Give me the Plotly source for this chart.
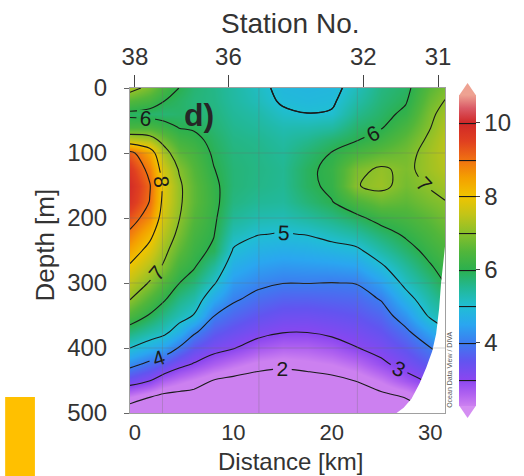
import numpy as np
import plotly.graph_objects as go

# ---------------- data ----------------
distance_km = [-0.5, 1.5, 3, 4.5, 6, 8, 10, 12.5, 15, 17.5, 20, 22.5, 25, 27.5, 30, 31.5]
depth_m = [0, 20, 40, 60, 80, 100, 125, 150, 175, 200, 225, 250, 275, 300,
           325, 350, 375, 400, 425, 450, 475, 500]

# one vertical profile (values at depth_m) per distance
profiles = [
    [7.25, 6.5, 5.87, 6.35, 7.5, 9.2, 9.65, 9.9, 9.75, 9.3, 8.87, 8.4, 7.9, 7.45, 7.02, 6.4, 5.7, 5.0, 4.2, 3.3, 2.3, 1.6],
    [6.8, 6.3, 5.8, 6.38, 7.3, 8.4, 8.8, 9.05, 8.98, 8.7, 8.2, 7.76, 7.35, 6.95, 6.45, 5.95, 5.36, 4.67, 3.83, 3.02, 2.02, 1.6],
    [6.35, 6.0, 5.75, 6.2, 6.75, 7.25, 7.6, 7.8, 7.75, 7.6, 7.4, 7.15, 6.9, 6.47, 6.05, 5.6, 5.15, 4.43, 3.54, 2.62, 1.85, 1.6],
    [5.99, 5.85, 5.8, 5.97, 6.3, 6.6, 6.95, 7.1, 7.1, 7.02, 6.85, 6.6, 6.3, 6.01, 5.62, 5.25, 4.72, 3.95, 3.18, 2.41, 1.8, 1.6],
    [5.75, 5.7, 5.75, 5.93, 6.15, 6.35, 6.5, 6.6, 6.6, 6.5, 6.35, 6.2, 6.05, 5.72, 5.35, 4.97, 4.1, 3.51, 2.95, 2.23, 1.8, 1.6],
    [5.6, 5.62, 5.68, 5.75, 5.85, 5.93, 6.02, 6.12, 6.15, 6.1, 6.03, 5.9, 5.45, 5.07, 4.57, 4.02, 3.61, 3.2, 2.66, 1.98, 1.7, 1.55],
    [5.4, 5.42, 5.48, 5.55, 5.62, 5.68, 5.72, 5.72, 5.65, 5.5, 5.25, 4.95, 4.66, 4.37, 4.08, 3.74, 3.4, 3.03, 2.44, 1.85, 1.6, 1.5],
    [5.15, 5.22, 5.35, 5.45, 5.55, 5.6, 5.62, 5.6, 5.5, 5.3, 5.02, 4.72, 4.42, 4.13, 3.82, 3.5, 3.17, 2.74, 2.2, 1.75, 1.55, 1.45],
    [4.86, 4.93, 5.1, 5.28, 5.4, 5.48, 5.53, 5.52, 5.45, 5.25, 4.97, 4.64, 4.32, 4.01, 3.68, 3.35, 3.03, 2.58, 2.12, 1.7, 1.5, 1.45],
    [4.82, 4.88, 5.01, 5.3, 5.55, 5.75, 5.88, 5.87, 5.72, 5.42, 5.02, 4.68, 4.35, 4.01, 3.67, 3.34, 3.02, 2.6, 2.2, 1.75, 1.55, 1.45],
    [4.85, 4.92, 5.05, 5.4, 5.78, 6.02, 6.15, 6.12, 5.98, 5.62, 5.2, 4.77, 4.38, 3.99, 3.71, 3.41, 3.12, 2.74, 2.3, 1.85, 1.6, 1.5],
    [5.2, 5.35, 5.55, 5.78, 5.97, 6.35, 6.85, 6.97, 6.4, 5.87, 5.4, 4.88, 4.45, 4.02, 3.75, 3.5, 3.24, 2.98, 2.5, 2.02, 1.7, 1.55],
    [5.65, 5.72, 5.82, 5.95, 6.25, 6.6, 7.08, 7.15, 6.7, 6.2, 5.76, 5.35, 4.9, 4.45, 4.03, 3.73, 3.47, 3.2, 2.87, 2.32, 1.85, 1.6],
    [5.85, 5.95, 6.12, 6.38, 6.62, 6.8, 6.88, 6.8, 6.6, 6.35, 6.08, 5.78, 5.45, 5.15, 4.76, 4.3, 3.88, 3.55, 3.22, 2.74, 2.03, 1.7],
    [6.55, 6.72, 6.88, 6.98, 7.12, 7.22, 7.2, 7.05, 6.85, 6.6, 6.4, 6.18, 5.95, 5.66, 5.38, 5.1, 4.5, 3.98, 3.6, 3.1, 2.5, 1.98],
    [6.85, 7.02, 7.2, 7.32, 7.42, 7.45, 7.38, 7.2, 6.98, 6.8, 6.6, 6.4, 6.2, 6.02, 5.7, 5.35, 4.9, 4.3, 3.8, 3.3, 2.7, 2.2],
]

# sea floor (no-data area, bottom right)
bottom_km = [31.6, 31.3, 31.1, 30.9, 30.6, 30.2, 29.6, 28.9, 28.1, 27.3, 26.4, 31.6]
bottom_depth = [230, 270, 300, 340, 378, 405, 430, 455, 478, 492, 502, 502]

station_no = ["38", "36", "32", "31"]
station_km = [0, 9.5, 23.2, 30.8]

dist_ticks = [0, 10, 20, 30]
depth_ticks = [0, 100, 200, 300, 400, 500]
cbar_ticks = [4, 6, 8, 10]
grid_km = [2.8, 12.6, 22.6]

contour_levels = dict(start=2, end=10, size=1)
surface_rows = 5          # upper 80 m, where the closed 5-loop sits
surface_level = 5
zmin, zmax = 2.28, 10.76

color_values = [2.28, 2.6, 3.0, 3.5, 4.0, 4.5, 5.0, 5.5, 6.0, 6.5, 7.0, 7.5,
                8.0, 8.5, 9.0, 9.5, 10.0, 10.4, 10.76]
color_hex = ["#cc80f0", "#b062f0", "#8a46f0", "#6254f0", "#3c7cf0", "#2aa6f0",
             "#20bed4", "#22b896", "#2cb04e", "#52b63a", "#8ac02a", "#c2c418",
             "#f0c400", "#f4a000", "#f07012", "#e04020", "#d02828", "#da5a66",
             "#eea292"]

# ---------------- figure ----------------
z = np.array(profiles).T  # rows = depth, cols = distance
colorscale = [[(v - zmin) / (zmax - zmin), c] for v, c in zip(color_values, color_hex)]

FONT = "Liberation Sans, Arial, sans-serif"
TXT = "#333333"
LINE = "#1a1a1a"

L, R, T, B = 130, 458, 88, 413  # plot area in pixels
W, H = 524, 476


def px2x(px):
    return (px - L) / (R - L)


def py2y(py):
    return (B - py) / (B - T)


cb_l, cb_r, cb_top, cb_bot = 473, 490, 95, 406

fig = go.Figure()
fig.add_trace(go.Contour(
    x=distance_km, y=depth_m, z=z,
    colorscale=colorscale, zmin=zmin, zmax=zmax,
    contours=dict(coloring="heatmap", showlabels=True,
                  labelfont=dict(size=21, color=LINE, family=FONT),
                  **contour_levels),
    line=dict(color=LINE, width=1.1, smoothing=1),
    hoverinfo="skip",
    colorbar=dict(x=px2x(cb_l), xanchor="left",
                  y=py2y((cb_top + cb_bot) / 2), yanchor="middle",
                  len=cb_bot - cb_top, lenmode="pixels",
                  thickness=cb_r - cb_l, thicknessmode="pixels",
                  xpad=0, ypad=0, outlinewidth=0,
                  tickvals=cbar_ticks, ticks="outside", ticklen=4,
                  tickcolor="#444", tickfont=dict(size=24, color=TXT, family=FONT)),
))

# the shallow 5-loop near the surface, drawn on its own so it is not lost
fig.add_trace(go.Contour(
    x=distance_km, y=depth_m[:surface_rows], z=z[:surface_rows],
    contours=dict(coloring="lines", start=surface_level, end=surface_level, size=1,
                  showlabels=False),
    colorscale=[[0, LINE], [1, LINE]],
    line=dict(width=1.4, smoothing=1),
    showscale=False, hoverinfo="skip",
))

fig.add_trace(go.Scatter(
    x=bottom_km, y=bottom_depth, mode="lines", fill="toself",
    fillcolor="white", line=dict(width=0, color="white"),
    hoverinfo="skip", showlegend=False,
))

# carrier for the station axis on top
fig.add_trace(go.Scatter(
    x=station_km, y=[depth_ticks[-1]] * len(station_km), xaxis="x2", yaxis="y",
    mode="markers", marker=dict(opacity=0), hoverinfo="skip", showlegend=False,
))

shapes = []
for d in depth_ticks[1:-1]:
    shapes.append(dict(type="line", xref="paper", yref="y", x0=0, x1=1, y0=d, y1=d,
                       line=dict(color="rgba(110,110,110,0.3)", width=1), layer="above"))
for g in grid_km:
    shapes.append(dict(type="line", xref="x", yref="paper", x0=g, x1=g, y0=0, y1=1,
                       line=dict(color="rgba(110,110,110,0.3)", width=1), layer="above"))

# colorbar end arrows
cb_mid = (cb_l + cb_r) / 2
shapes.append(dict(type="path", xref="paper", yref="paper",
                   path=f"M {px2x(cb_l)},{py2y(cb_top)} L {px2x(cb_r)},{py2y(cb_top)} L {px2x(cb_mid)},{py2y(cb_top - 12)} Z",
                   fillcolor=color_hex[-1], line=dict(width=0)))
shapes.append(dict(type="path", xref="paper", yref="paper",
                   path=f"M {px2x(cb_l)},{py2y(cb_bot)} L {px2x(cb_r)},{py2y(cb_bot)} L {px2x(cb_mid)},{py2y(cb_bot + 12)} Z",
                   fillcolor="#d48ef2", line=dict(width=0)))

# orange block at the bottom-left corner
shapes.append(dict(type="rect", xref="paper", yref="paper",
                   x0=px2x(0), x1=px2x(31), y0=py2y(476), y1=py2y(397),
                   fillcolor="#FFC000", line=dict(width=0)))

annotations = [
    dict(text="Station No.", x=px2x(297), y=py2y(23), xref="paper", yref="paper",
         showarrow=False, xanchor="center", yanchor="middle",
         font=dict(size=28, color=TXT, family=FONT)),
    dict(text="Distance [km]", x=px2x(297), y=py2y(461), xref="paper", yref="paper",
         showarrow=False, xanchor="center", yanchor="middle",
         font=dict(size=24, color=TXT, family=FONT)),
    dict(text="Depth [m]", x=px2x(42), y=py2y(245), xref="paper", yref="paper",
         showarrow=False, xanchor="center", yanchor="middle", textangle=-90,
         font=dict(size=26, color=TXT, family=FONT)),
    dict(text="<b>d)</b>", x=px2x(202), y=py2y(115), xref="paper", yref="paper",
         showarrow=False, xanchor="center", yanchor="middle",
         font=dict(size=32, color="#262626", family=FONT)),
    dict(text="Ocean Data View / DIVA", x=px2x(462), y=py2y(370), xref="paper", yref="paper",
         showarrow=False, xanchor="center", yanchor="middle", textangle=-90,
         font=dict(size=7, color="#555555", family=FONT)),
]

fig.update_layout(
    width=W, height=H,
    margin=dict(l=L, r=W - R, t=T, b=H - B),
    paper_bgcolor="white", plot_bgcolor="white",
    font=dict(family=FONT, color=TXT, size=24),
    showlegend=False,
    xaxis=dict(range=[-0.5, 31.5], tickvals=dist_ticks, ticks="",
               ticklabelstandoff=0, showgrid=False, zeroline=False,
               showline=True, linecolor="#a0a0a0", linewidth=1, mirror=True,
               tickfont=dict(size=22, color=TXT)),
    xaxis2=dict(overlaying="x", side="top", range=[-0.5, 31.5], tickvals=station_km,
                ticktext=station_no, ticks="outside", ticklen=12, tickcolor="#444",
                tickwidth=1.3, showgrid=False, zeroline=False, showline=False,
                tickfont=dict(size=24, color=TXT)),
    yaxis=dict(range=[500, 0], tickvals=depth_ticks, ticks="outside", ticklen=5,
               tickcolor="#666", showgrid=False, zeroline=False,
               showline=True, linecolor="#a0a0a0", linewidth=1, mirror=True,
               ticklabelstandoff=12, tickfont=dict(size=24, color=TXT)),
    shapes=shapes,
    annotations=annotations,
)

fig.write_html("out.html")
